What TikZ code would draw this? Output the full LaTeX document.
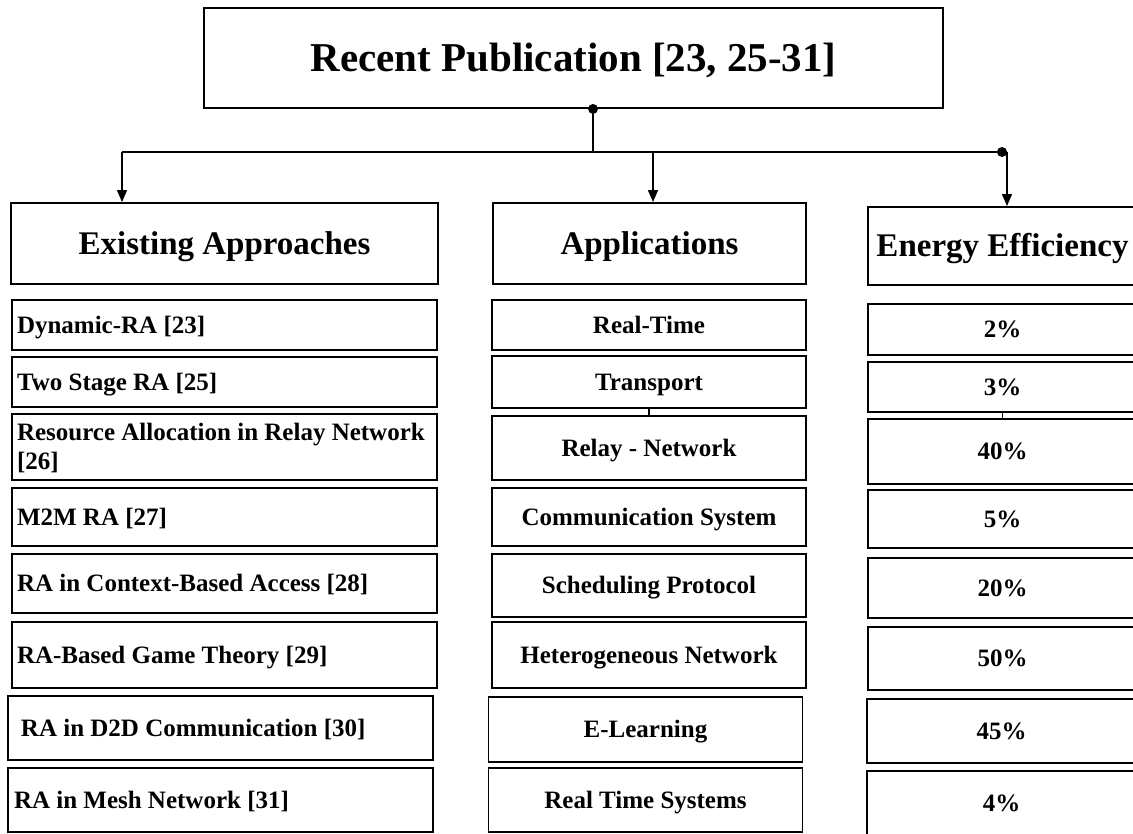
\documentclass[tikz,border=0pt]{standalone}
\usepackage{fontspec}
\setmainfont{Liberation Serif}
\usetikzlibrary{arrows.meta}
\begin{document}
\begin{tikzpicture}[x=1pt,y=-1pt,
  bx/.style={draw,line width=1.9pt,inner sep=0pt,text height=16.5pt,text depth=0pt,font=\bfseries\fontsize{25}{29}\selectfont},
  lbox/.style={bx,text width=#1,align=flush left},
  cbox/.style={bx,minimum width=#1},
  hd/.style={bx,text height=21.8pt,font=\bfseries\fontsize{33}{38}\selectfont},
  conn/.style={line width=1.4pt},
  arr/.style={conn,-{Triangle[width=10pt,length=12pt]}}]
\useasboundingbox (0,0) rectangle (1133,834);
\clip (0,0) rectangle (1133,834);
% top
\node[bx,text height=27pt,minimum width=739,minimum height=100,font=\bfseries\fontsize{41}{46}\selectfont] (top) at (573.5,58) {Recent Publication [23, 25-31]};
% headers
\node[hd,minimum width=427,minimum height=81] (hEA) at (224.5,243.5) {Existing Approaches};
\node[hd,minimum width=313,minimum height=81] (hAP) at (649.5,243.5) {Applications};
\node[hd,minimum width=269,minimum height=78] (hEE) at (1002.5,246) {Energy Efficiency};
% left column
\begin{scope}[every node/.append style={lbox=415,inner xsep=5pt}]
\node[minimum height=50] (ea1) at (224.5,325) {Dynamic-RA [23]};
\node[minimum height=50] (ea2) at (224.5,382) {Two Stage RA [25]};
\node[minimum height=66,text depth=29pt] (ea3) at (224.5,447) {Resource Allocation in Relay Network\\{[26]}};
\node[minimum height=58] (ea4) at (224.5,517) {M2M RA [27]};
\node[minimum height=59] (ea5) at (224.5,583.5) {RA in Context-Based Access [28]};
\node[minimum height=66] (ea6) at (224.5,655) {RA-Based Game Theory [29]};
\node[minimum height=64,inner xsep=0pt,text width=425] (ea7) at (220.5,728) {\hspace*{13pt}RA in D2D Communication [30]};
\node[minimum height=64,inner xsep=0pt,text width=425] (ea8) at (220.5,800) {\hspace*{6pt}RA in Mesh Network [31]};
\end{scope}
% middle column
\begin{scope}[every node/.append style={cbox=314}]
\node[minimum height=50] (ap1) at (649,325) {Real-Time};
\node[minimum height=52] (ap2) at (649,382) {Transport};
\node[minimum height=64] (ap3) at (649,448) {Relay - Network};
\node[minimum height=58] (ap4) at (649,517) {Communication System};
\node[minimum height=63] (ap5) at (649,585.5) {Scheduling Protocol};
\node[minimum height=66] (ap6) at (649,655) {Heterogeneous Network};
\node[minimum height=65] (ap7) at (645.5,729.5) {E-Learning};
\node[minimum height=64] (ap8) at (645.5,800) {Real Time Systems};
\end{scope}
% right column
\begin{scope}[every node/.append style={cbox=269}]
\node[minimum height=51] (ee1) at (1002.5,329.5) {2\%};
\node[minimum height=50] (ee2) at (1002.5,387) {3\%};
\node[minimum height=65] (ee3) at (1002.5,451.5) {40\%};
\node[minimum height=58] (ee4) at (1002.5,519) {5\%};
\node[minimum height=60] (ee5) at (1002.5,588) {20\%};
\node[minimum height=63] (ee6) at (1002.5,658.5) {50\%};
\node[minimum height=64] (ee7) at (1001.5,731) {45\%};
\node[minimum height=64] (ee8) at (1001.5,803) {4\%};
\end{scope}
% connectors
\coordinate (j) at (593,152);
\coordinate (aL) at (122,152);
\coordinate (aM) at (653,152);
\coordinate (dR) at (1002,152);
\coordinate (aR) at (1007,152);
\fill (top.south -| j) circle (5);
\draw[conn] (top.south -| j) -- (j);
\draw[line width=2.6pt] (j) -- ++(20,0);
\draw[conn] (aL) -- (dR) -- (aR);
\fill (dR) circle (5);
\draw[arr] (aL) -- (aL |- hEA.north);
\draw[arr] (aM) -- (aM |- hAP.north);
\draw[arr] (aR) -- (aR |- hEE.north);
\draw[conn] (ap2.south) -- (ap3.north);
\draw[conn] (ee2.south) -- (ee3.north);
\end{tikzpicture}
\end{document}
